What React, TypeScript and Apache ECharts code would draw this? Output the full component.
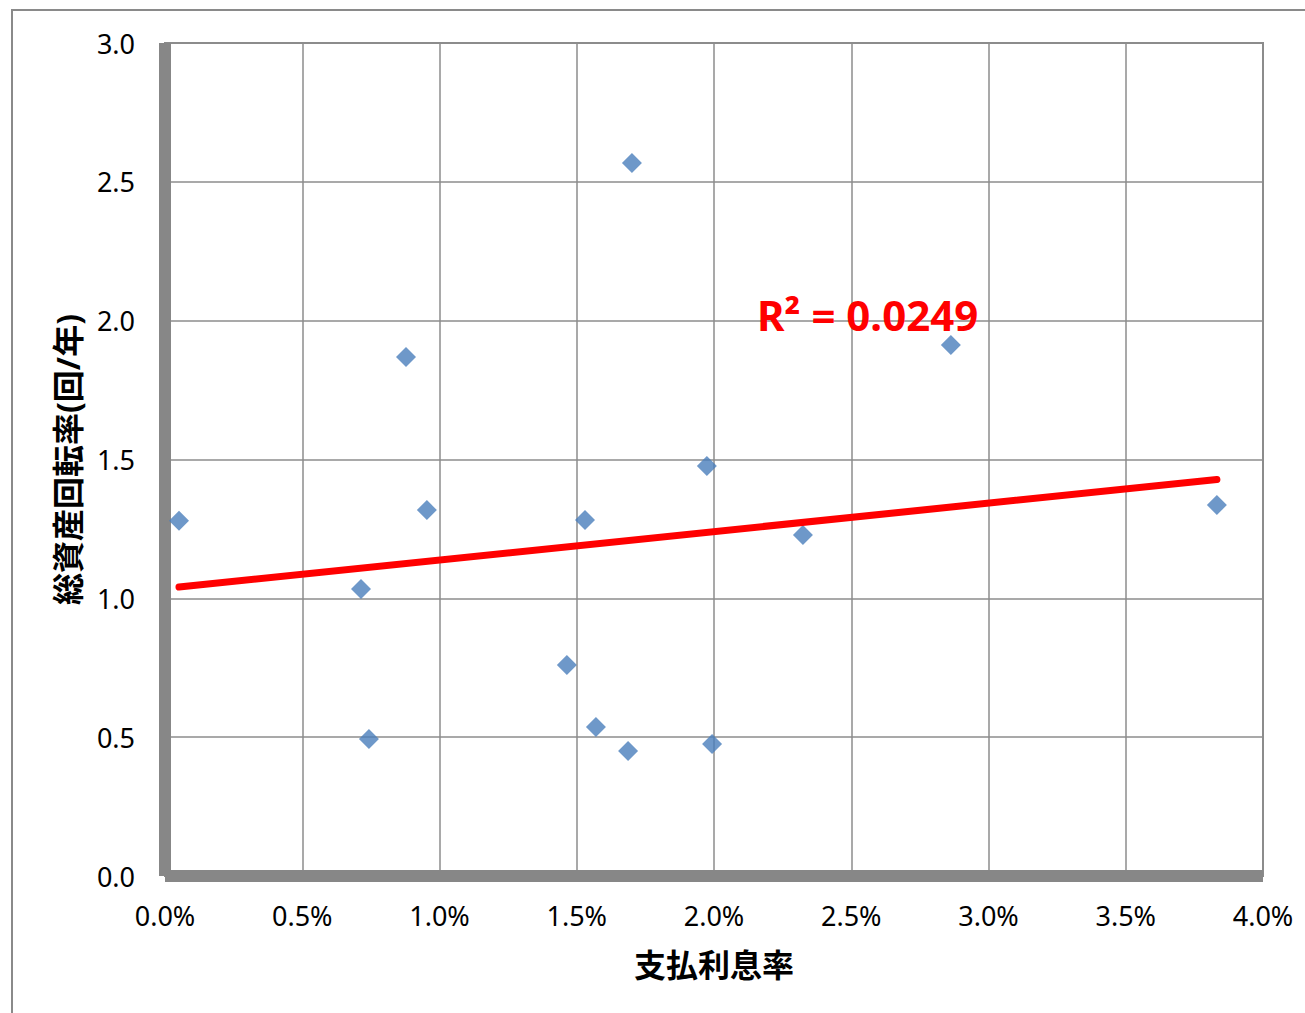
import React, { useEffect, useRef } from "react";
import * as echarts from "echarts";

// 支払利息率 (fraction) and 総資産回転率 (回/年)
const interestRate = [0.00051, 0.00714, 0.00743, 0.00878, 0.00954, 0.01464, 0.0153, 0.0157, 0.01687, 0.01701, 0.01974, 0.01993, 0.02324, 0.02863, 0.03832];
const assetTurnover = [1.279, 1.034, 0.493, 1.869, 1.318, 0.76, 1.282, 0.537, 0.45, 2.568, 1.477, 0.475, 1.228, 1.912, 1.336];
const r2Label = "R² = 0.0249";
const xTitle = "支払利息率";
const yTitle = "総資産回転率(回/年)";

function regression(xs: number[], ys: number[]) {
  const n = xs.length;
  const mx = xs.reduce((a, b) => a + b, 0) / n;
  const my = ys.reduce((a, b) => a + b, 0) / n;
  let sxy = 0, sxx = 0;
  for (let i = 0; i < n; i++) {
    sxy += (xs[i] - mx) * (ys[i] - my);
    sxx += (xs[i] - mx) * (xs[i] - mx);
  }
  const slope = sxy / sxx;
  return { slope, intercept: my - slope * mx };
}

export default function App() {
  const ref = useRef<HTMLDivElement>(null);
  useEffect(() => {
    if (!ref.current) return;
    const chart = echarts.init(ref.current, undefined, { renderer: "svg" });
    const { slope, intercept } = regression(interestRate, assetTurnover);
    const xmin = Math.min(...interestRate);
    const xmax = Math.max(...interestRate);
    const trend = [
      [xmin, intercept + slope * xmin],
      [xmax, intercept + slope * xmax],
    ];
    const font = "'Noto Sans', 'Noto Sans CJK JP', sans-serif";
    chart.setOption({
      animation: false,
      backgroundColor: "#ffffff",
      textStyle: { fontFamily: font },
      grid: {
        left: 165,
        top: 43,
        right: 42,
        bottom: 137,
        show: true,
        borderColor: "#8a8a8a",
        borderWidth: 2,
        containLabel: false,
      },
      xAxis: {
        type: "value",
        min: 0,
        max: 0.04,
        interval: 0.005,
        name: xTitle,
        nameLocation: "middle",
        nameGap: 72,
        nameTextStyle: { fontSize: 32, fontWeight: "bold", color: "#000", fontFamily: font },
        axisLine: { show: true, onZero: false, lineStyle: { color: "#878787", width: 12, cap: "butt" } },
        axisTick: { show: false },
        splitLine: { show: true, lineStyle: { color: "#8c8c8c", width: 1.5 } },
        axisLabel: {
          fontSize: 27,
          color: "#000",
          margin: 26,
          fontFamily: font,
          formatter: (v: number) => (v * 100).toFixed(1) + "%",
        },
      },
      yAxis: {
        type: "value",
        min: 0,
        max: 3,
        interval: 0.5,
        name: yTitle,
        nameLocation: "middle",
        nameGap: 82,
        nameRotate: 90,
        nameTextStyle: { fontSize: 32, fontWeight: "bold", color: "#000", fontFamily: font },
        axisLine: { show: true, onZero: false, lineStyle: { color: "#878787", width: 12, cap: "butt" } },
        axisTick: { show: false },
        splitLine: { show: true, lineStyle: { color: "#8c8c8c", width: 1.5 } },
        axisLabel: {
          fontSize: 27,
          color: "#000",
          margin: 30,
          fontFamily: font,
          formatter: (v: number) => v.toFixed(1),
        },
      },
      graphic: [
        {
          type: "rect",
          shape: { x: 12, y: 10, width: 1400, height: 1100 },
          style: { fill: "none", stroke: "#8a8a8a", lineWidth: 2 },
          silent: true,
          z: -1,
        },
        {
          type: "text",
          x: 757,
          y: 314,
          style: {
            text: r2Label,
            fill: "#ff0000",
            fontSize: 42,
            fontWeight: "bold",
            fontFamily: font,
            verticalAlign: "middle",
          },
          z: 100,
        },
      ],
      series: [
        {
          type: "scatter",
          data: interestRate.map((x, i) => [x, assetTurnover[i]]),
          symbol: "diamond",
          symbolSize: 20,
          itemStyle: { color: "#4a7ebb" },
          z: 3,
        },
        {
          type: "line",
          data: trend,
          showSymbol: false,
          symbol: "none",
          lineStyle: { color: "#ff0000", width: 7, cap: "round" },
          z: 4,
        },
      ],
    });
    return () => chart.dispose();
  }, []);
  return (
    <div
      ref={ref}
      style={{ position: "absolute", left: 0, top: 0, width: 1305, height: 1013 }}
    />
  );
}
